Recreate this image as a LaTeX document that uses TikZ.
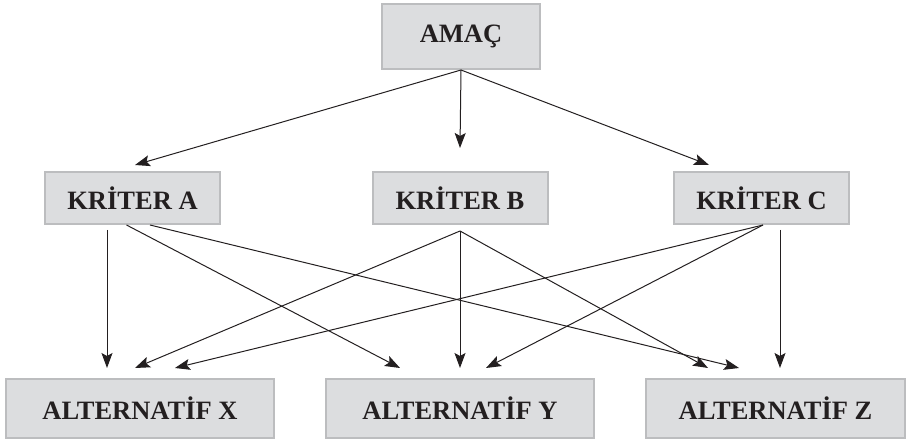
\documentclass[tikz,border=0pt]{standalone}
\usepackage{fontspec}
\setmainfont{Liberation Serif}
\usetikzlibrary{arrows.meta}
\definecolor{boxgray}{RGB}{220,221,223}
\definecolor{boxedge}{RGB}{188,189,191}
\definecolor{inkblack}{RGB}{35,31,32}
\tikzset{
  levelbox/.style={draw=boxedge, line width=2pt, fill=boxgray, text=inkblack,
    font=\fontsize{26.5}{30}\selectfont\bfseries, inner sep=0pt},
  link/.style={-{Stealth[length=15pt,width=11pt,inset=3pt]}, draw=inkblack, line width=1pt}
}
\begin{document}
\begin{tikzpicture}[x=1pt,y=1pt]
      \useasboundingbox (0,0) rectangle (909,441);
      \draw
        (461,404.5) node[levelbox, minimum width=158pt, minimum height=65pt] (amac){AMAÇ}
        (132.5,243) node[levelbox, minimum width=175pt, minimum height=52pt] (kA){KRİTER A}
        (460,243) node[levelbox, minimum width=175pt, minimum height=52pt] (kB){KRİTER B}
        (761.5,243) node[levelbox, minimum width=175pt, minimum height=52pt] (kC){KRİTER C}
        (140,32.5) node[levelbox, minimum width=268pt, minimum height=59pt] (aX){ALTERNATİF X}
        (460,32.5) node[levelbox, minimum width=268pt, minimum height=59pt] (aY){ALTERNATİF Y}
        (775.5,32.5) node[levelbox, minimum width=259pt, minimum height=59pt] (aZ){ALTERNATİF Z};
      \begin{scope}[link]
        \draw (amac.south) to ([xshift=2.5pt,yshift=6pt]kA.north);
        \draw (amac.south) to ([yshift=23pt]kB.north);
        \draw (amac.south) to ([xshift=-52.5pt,yshift=6pt]kC.north);
        \draw ([xshift=-25.5pt,yshift=-5pt]kA.south) to ([xshift=-33pt,yshift=10pt]aX.north);
        \draw ([xshift=-6pt]kA.south) to ([xshift=-60pt,yshift=10pt]aY.north);
        \draw ([xshift=17.5pt]kA.south) to ([xshift=-36.5pt,yshift=10pt]aZ.north);
        \draw ([yshift=-6pt]kB.south) to ([xshift=-5pt,yshift=10pt]aX.north);
        \draw ([yshift=-6pt]kB.south) to ([yshift=10pt]aY.north);
        \draw ([yshift=-6pt]kB.south) to ([xshift=-67.5pt,yshift=10pt]aZ.north);
        \draw ([xshift=1.5pt]kC.south) to ([xshift=35pt,yshift=10pt]aX.north);
        \draw ([xshift=1.5pt]kC.south) to ([xshift=26pt,yshift=10pt]aY.north);
        \draw ([xshift=18.5pt,yshift=-5pt]kC.south) to ([xshift=4.5pt,yshift=10pt]aZ.north);
      \end{scope}
    \end{tikzpicture}
\end{document}
